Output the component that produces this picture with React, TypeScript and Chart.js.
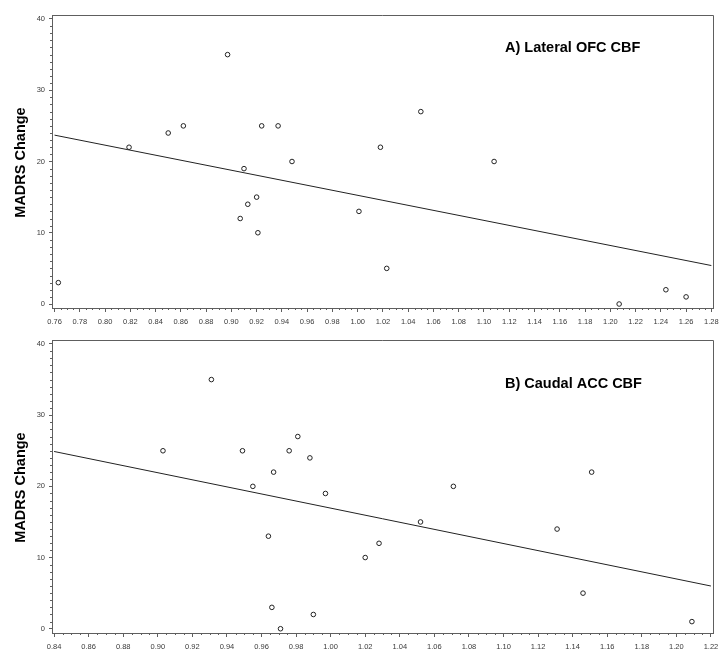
import React, { useEffect, useRef } from 'react';
import { Chart, registerables } from 'chart.js';

Chart.register(...registerables);

// ---------- Data ----------
// Panel A: Lateral OFC CBF
const cbfA = [0.763, 0.819, 0.85, 0.862, 0.897, 0.907, 0.91, 0.913, 0.92, 0.921, 0.924, 0.937, 0.948, 1.001, 1.018, 1.023, 1.05, 1.108, 1.207, 1.244, 1.26];
const madrsA = [3, 22, 24, 25, 35, 12, 19, 14, 15, 10, 25, 25, 20, 13, 22, 5, 27, 20, 0, 2, 1];
const fitXA = [0.76, 1.28];
const fitYA = [23.7, 5.4];
const xTicksA = [0.76, 0.78, 0.8, 0.82, 0.84, 0.86, 0.88, 0.9, 0.92, 0.94, 0.96, 0.98, 1.0, 1.02, 1.04, 1.06, 1.08, 1.1, 1.12, 1.14, 1.16, 1.18, 1.2, 1.22, 1.24, 1.26, 1.28];

// Panel B: Caudal ACC CBF
const cbfB = [0.903, 0.931, 0.949, 0.955, 0.964, 0.966, 0.967, 0.971, 0.976, 0.981, 0.988, 0.99, 0.997, 1.02, 1.028, 1.052, 1.071, 1.131, 1.146, 1.151, 1.209];
const madrsB = [25, 35, 25, 20, 13, 3, 22, 0, 25, 27, 24, 2, 19, 10, 12, 15, 20, 14, 5, 22, 1];
const fitXB = [0.84, 1.22];
const fitYB = [24.9, 6.0];
const xTicksB = [0.84, 0.86, 0.88, 0.9, 0.92, 0.94, 0.96, 0.98, 1.0, 1.02, 1.04, 1.06, 1.08, 1.1, 1.12, 1.14, 1.16, 1.18, 1.2, 1.22];

const yTicks = [0, 10, 20, 30, 40];
const yMinorStep = 1;
const xMinorStep = 0.005;

const titleA = 'A) Lateral OFC CBF';
const titleB = 'B) Caudal ACC CBF';
const yTitle = 'MADRS Change';

// ---------- Styles ----------
const AXIS = '#5e5e5e';
const TICK_TEXT = '#3a3a3a';

type PanelSpec = {
  xs: number[];
  ys: number[];
  fx: number[];
  fy: number[];
  xTicks: number[];
  xMin: number;
  xMax: number;
  yMin: number;
  yMax: number;
  topPad: number;
  title: string;
  titleLeft: number;
  titleBaseline: number;
};

function decorPlugin(spec: PanelSpec) {
  return {
    id: 'decor',
    afterDraw(chart: any) {
      const { ctx, chartArea: a, scales } = chart;
      const x = scales.x;
      const y = scales.y;
      ctx.save();
      ctx.strokeStyle = AXIS;
      ctx.lineWidth = 1;
      // frame top & right
      ctx.beginPath();
      ctx.moveTo(a.left, Math.round(a.top) + 0.5);
      ctx.lineTo(Math.round(a.right) + 0.5, Math.round(a.top) + 0.5);
      ctx.lineTo(Math.round(a.right) + 0.5, a.bottom);
      ctx.stroke();
      // minor y ticks
      ctx.beginPath();
      for (let v = yTicks[0]; v <= yTicks[yTicks.length - 1] + 1e-9; v += yMinorStep) {
        if (Math.abs(v % 10) < 1e-9) continue;
        const py = Math.round(y.getPixelForValue(v)) + 0.5;
        ctx.moveTo(a.left - 2, py);
        ctx.lineTo(a.left, py);
      }
      ctx.stroke();
      // minor x ticks
      ctx.beginPath();
      const first = spec.xTicks[0];
      const last = spec.xTicks[spec.xTicks.length - 1];
      const n = Math.round((last - first) / xMinorStep);
      for (let i = 0; i <= n; i++) {
        if (i % 4 === 0) continue;
        const v = first + i * xMinorStep;
        const px = Math.round(x.getPixelForValue(v)) + 0.5;
        ctx.moveTo(px, a.bottom);
        ctx.lineTo(px, a.bottom + 2);
      }
      ctx.stroke();
      // panel title
      ctx.fillStyle = '#000';
      ctx.font = 'bold 14.5px Arial, "Liberation Sans", sans-serif';
      ctx.textAlign = 'left';
      ctx.textBaseline = 'alphabetic';
      ctx.fillText(spec.title, spec.titleLeft, spec.titleBaseline);
      // y axis title
      ctx.save();
      ctx.translate(21, (a.top + a.bottom) / 2 + 1);
      ctx.rotate(-Math.PI / 2);
      ctx.textAlign = 'center';
      ctx.textBaseline = 'middle';
      ctx.font = 'bold 14.5px Arial, "Liberation Sans", sans-serif';
      ctx.fillText(yTitle, 0, 0);
      ctx.restore();
      ctx.restore();
    },
  };
}

function makeConfig(spec: PanelSpec): any {
  const tickFont = { family: 'Arial, "Liberation Sans", sans-serif', size: 7.5 };
  return {
    type: 'scatter',
    data: {
      datasets: [
        {
          type: 'scatter',
          data: spec.xs.map((v, i) => ({ x: v, y: spec.ys[i] })),
          pointRadius: 2.3,
          pointHoverRadius: 2.3,
          pointBackgroundColor: '#fff',
          pointBorderColor: '#222',
          pointBorderWidth: 1,
        },
        {
          type: 'line',
          data: spec.fx.map((v, i) => ({ x: v, y: spec.fy[i] })),
          borderColor: '#222',
          borderWidth: 1,
          pointRadius: 0,
          fill: false,
        },
      ],
    },
    options: {
      responsive: false,
      animation: false,
      devicePixelRatio: 1,
      layout: { padding: { left: 0, right: 11, top: spec.topPad, bottom: 0 } },
      plugins: { legend: { display: false }, tooltip: { enabled: false }, title: { display: false } },
      scales: {
        x: {
          type: 'linear',
          min: spec.xMin,
          max: spec.xMax,
          afterBuildTicks: (scale: any) => {
            scale.ticks = spec.xTicks.map((v) => ({ value: v }));
          },
          afterFit: (scale: any) => {
            scale.height = 22;
          },
          ticks: {
            autoSkip: false,
            maxRotation: 0,
            minRotation: 0,
            padding: 5,
            color: TICK_TEXT,
            font: tickFont,
            callback: (v: number) => Number(v).toFixed(2),
          },
          grid: { drawOnChartArea: false, drawTicks: true, tickLength: 4, tickColor: AXIS },
          border: { display: true, color: AXIS, width: 1 },
        },
        y: {
          type: 'linear',
          min: spec.yMin,
          max: spec.yMax,
          afterBuildTicks: (scale: any) => {
            scale.ticks = yTicks.map((v) => ({ value: v }));
          },
          afterFit: (scale: any) => {
            scale.width = 52;
          },
          ticks: {
            padding: 4,
            color: TICK_TEXT,
            font: tickFont,
            callback: (v: number) => String(v),
          },
          grid: { drawOnChartArea: false, drawTicks: true, tickLength: 3, tickColor: AXIS },
          border: { display: true, color: AXIS, width: 1 },
        },
      },
    },
    plugins: [decorPlugin(spec)],
  };
}

const specA: PanelSpec = {
  xs: cbfA,
  ys: madrsA,
  fx: fitXA,
  fy: fitYA,
  xTicks: xTicksA,
  xMin: 0.758,
  xMax: 1.2813,
  yMin: -0.56,
  yMax: 40.56,
  topPad: 15,
  title: titleA,
  titleLeft: 505,
  titleBaseline: 52,
};

const specB: PanelSpec = {
  xs: cbfB,
  ys: madrsB,
  fx: fitXB,
  fy: fitYB,
  xTicks: xTicksB,
  xMin: 0.8388,
  xMax: 1.2212,
  yMin: -0.6,
  yMax: 40.56,
  topPad: 10,
  title: titleB,
  titleLeft: 505,
  titleBaseline: 58,
};

function Panel({ spec, top, height }: { spec: PanelSpec; top: number; height: number }) {
  const ref = useRef<HTMLCanvasElement | null>(null);
  useEffect(() => {
    if (!ref.current) return;
    const chart = new Chart(ref.current, makeConfig(spec));
    return () => chart.destroy();
  }, [spec]);
  return (
    <canvas
      ref={ref}
      width={724}
      height={height}
      style={{ position: 'absolute', left: 0, top, width: 724, height, display: 'block' }}
    />
  );
}

export default function App() {
  return (
    <div style={{ position: 'absolute', left: 0, top: 0, width: 724, height: 655, background: '#fff', overflow: 'hidden' }}>
      <Panel spec={specA} top={0} height={330} />
      <Panel spec={specB} top={330} height={325} />
    </div>
  );
}
